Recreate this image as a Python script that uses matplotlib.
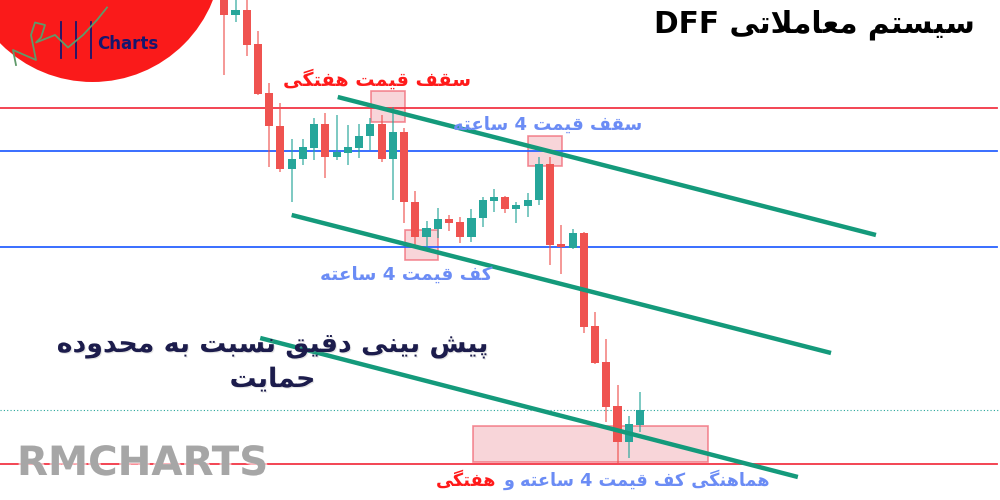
""" Candlestick chart with support / resistance notes (DFF system). """

import re

import matplotlib
matplotlib.use("Agg")
import matplotlib.pyplot as plt
import matplotlib.patheffects as pe
from matplotlib.patches import Ellipse, Rectangle

plt.rcParams['font.family'] = ['DejaVu Sans']

# ---- data -------------------------------------------------------------
# candles (index 0 is the first visible bar)
opens = [508, 485, 490, 456, 407, 374, 331, 341, 352, 376, 343, 347, 352, 364, 376,
         341, 368, 298, 263, 271, 281, 278, 263, 282, 299, 303, 291, 294, 300, 336,
         256, 252, 267, 174, 138, 94, 58, 75]
closes = [485, 490, 455, 406, 374, 331, 341, 353, 376, 343, 348, 353, 364, 376, 341,
          368, 298, 263, 272, 281, 277, 263, 282, 300, 303, 291, 295, 300, 336, 255,
          253, 267, 173, 137, 93, 58, 76, 90]
highs = [512, 505, 505, 469, 417, 397, 361, 361, 382, 387, 385, 375, 376, 382, 385,
         393, 372, 309, 279, 292, 285, 283, 291, 303, 311, 304, 298, 307, 343, 343,
         275, 271, 268, 188, 161, 115, 84, 108]
lows = [425, 478, 444, 405, 333, 328, 298, 335, 340, 322, 340, 335, 342, 350, 338,
        300, 277, 253, 252, 262, 269, 257, 258, 273, 288, 287, 277, 283, 295, 235,
        226, 251, 167, 136, 78, 37, 42, 68]

# price levels
weekly_levels = [392, 36]
h4_levels = [349, 253]
dotted_level = 90

# channel lines: (x0, y0, x1, y1)
channel_top = (10.1, 403, 58.0, 265)
channel_mid = (6.0, 285, 54.0, 147)
channel_low = (3.2, 162, 51.05, 23)

# zones: (x0, x1, y0, y1)
zones = [(13.06, 16.08, 378, 409),
         (27.06, 30.08, 334, 364),
         (16.08, 19.05, 240, 270),
         (22.11, 43.08, 38, 74)]

title = "سیستم معاملاتی DFF"
weekly_top = "سقف قیمت هفتگی"
h4_top = "سقف قیمت 4 ساعته"
h4_bottom = "کف قیمت 4 ساعته"
headline = ["پیش بینی دقیق نسبت به محدوده", "حمایت"]
footer_blue = "هماهنگی کف قیمت 4 ساعته و"
footer_red = "هفتگی"
watermark = "RMCHARTS"

GREEN = '#26a69a'
RED = '#ef5350'
CHANNEL = '#149a7b'
LABEL_BLUE = '#6b8cf5'
LABEL_RED = '#ff1a1a'

# ---- minimal persian shaping (matplotlib has no bidi / joining) -------
FORMS = {
    'ا': ('\ufe8d', '\ufe8e', None, None),
    'ب': ('\ufe8f', '\ufe90', '\ufe91', '\ufe92'),
    'پ': ('\ufb56', '\ufb57', '\ufb58', '\ufb59'),
    'ت': ('\ufe95', '\ufe96', '\ufe97', '\ufe98'),
    'ح': ('\ufea1', '\ufea2', '\ufea3', '\ufea4'),
    'د': ('\ufea9', '\ufeaa', None, None),
    'س': ('\ufeb1', '\ufeb2', '\ufeb3', '\ufeb4'),
    'ش': ('\ufeb5', '\ufeb6', '\ufeb7', '\ufeb8'),
    'ع': ('\ufec9', '\ufeca', '\ufecb', '\ufecc'),
    'ف': ('\ufed1', '\ufed2', '\ufed3', '\ufed4'),
    'ق': ('\ufed5', '\ufed6', '\ufed7', '\ufed8'),
    'ک': ('\ufb8e', '\ufb8f', '\ufb90', '\ufb91'),
    'گ': ('\ufb92', '\ufb93', '\ufb94', '\ufb95'),
    'ل': ('\ufedd', '\ufede', '\ufedf', '\ufee0'),
    'م': ('\ufee1', '\ufee2', '\ufee3', '\ufee4'),
    'ن': ('\ufee5', '\ufee6', '\ufee7', '\ufee8'),
    'ه': ('\ufee9', '\ufeea', '\ufeeb', '\ufeec'),
    'و': ('\ufeed', '\ufeee', None, None),
    'ی': ('\ufbfc', '\ufbfd', '\ufbfe', '\ufbff'),
}


def joins_next(c):
    return c in FORMS and FORMS[c][2] is not None


def fa(text):
    text = text.replace('\u064a', 'ی').replace('\u0643', 'ک')
    out = []
    i = 0
    while i < len(text):
        c = text[i]
        if c not in FORMS:
            out.append(c)
            i += 1
            continue
        link_prev = i > 0 and joins_next(text[i - 1])
        if c == 'ل' and i + 1 < len(text) and text[i + 1] == 'ا':
            out.append('\ufefc' if link_prev else '\ufefb')
            i += 2
            continue
        link_next = joins_next(c) and i + 1 < len(text) and text[i + 1] in FORMS
        iso, fin, ini, med = FORMS[c]
        if link_prev and link_next:
            out.append(med)
        elif link_prev:
            out.append(fin)
        elif link_next:
            out.append(ini)
        else:
            out.append(iso)
        i += 1
    s = ''.join(out)[::-1]
    return re.sub(r'[A-Za-z0-9]+', lambda m: m.group(0)[::-1], s)


def main():
    fig = plt.figure(figsize=(10, 5), dpi=100)
    ax = fig.add_axes([0, 0, 1, 1])
    ax.set_xlim(-19.96, 69.04)
    ax.set_ylim(0, 500)
    ax.axis('off')

    # levels
    for y in weekly_levels:
        ax.axhline(y, xmax=0.997, color='#f23645', lw=1.3, zorder=1.5)
    for y in h4_levels:
        ax.axhline(y, xmax=0.997, color='#2962ff', lw=1.3, zorder=1.5)
    ax.axhline(dotted_level, color=GREEN, lw=0.8, ls=(0, (1, 2)), zorder=1.5)

    # zones
    for x0, x1, y0, y1 in zones:
        ax.add_patch(Rectangle((x0, y0), x1 - x0, y1 - y0, facecolor='#f6c4c9',
                               edgecolor='#f0606e', lw=1.2, alpha=0.7, zorder=1))

    # candles
    xs = list(range(len(opens)))
    colors = [GREEN if c >= o else RED for o, c in zip(opens, closes)]
    ax.vlines(xs, lows, highs, colors=colors, lw=1.2, alpha=0.7, zorder=2)
    ax.bar(xs, [c - o for o, c in zip(opens, closes)], bottom=opens, width=0.72,
           color=colors, lw=0, zorder=2.1)

    # channel
    for x0, y0, x1, y1 in (channel_top, channel_mid, channel_low):
        ax.plot([x0, x1], [y0, y1], color=CHANNEL, lw=3.2, solid_capstyle='butt', zorder=3)

    # labels
    ax.text(13.6, 421, fa(weekly_top), color=LABEL_RED, fontsize=13.8, fontweight='bold',
            ha='center', va='center', zorder=4)
    ax.text(28.8, 375, fa(h4_top), color=LABEL_BLUE, fontsize=13, fontweight='bold',
            ha='center', va='center', zorder=4)
    ax.text(16.17, 225, fa(h4_bottom), color=LABEL_BLUE, fontsize=13.2, fontweight='bold',
            ha='center', va='center', zorder=4)
    ax.text(4.3, 137, '\n'.join(fa(t) for t in headline), color='#1c1c4c', fontsize=19.3,
            fontweight='bold', ha='center', va='center', multialignment='center',
            linespacing=1.4, zorder=4,
            path_effects=[pe.withSimplePatchShadow(offset=(0.8, -0.8), shadow_rgbFace='#999999',
                                                   alpha=0.25)])
    blue = ax.text(48.56, 20, fa(footer_blue), color=LABEL_BLUE, fontsize=12.7,
                   fontweight='bold', ha='right', va='center', zorder=4)
    ax.annotate(fa(footer_red), xy=(0, 0.5), xycoords=blue, xytext=(-5, 0),
                textcoords='offset points', color=LABEL_RED, fontsize=12.7,
                fontweight='bold', ha='right', va='center', zorder=4)

    ax.text(0.975, 0.95, fa(title), transform=ax.transAxes, color='black', fontsize=21.3,
            fontweight='bold', ha='right', va='center', zorder=4)
    ax.text(0.017, 0.072, watermark, transform=ax.transAxes, color='#a6a6a6', fontsize=29,
            fontweight='bold', ha='left', va='center', zorder=4,
            path_effects=[pe.withStroke(linewidth=3, foreground='white', alpha=0.6)])

    # logo
    ax.add_patch(Ellipse((0.0925, 1.095), 0.259, 0.518, transform=ax.transAxes,
                         facecolor='#fa1a1a', edgecolor='none', zorder=5))
    for lx in (0.061, 0.076, 0.091):
        ax.plot([lx, lx], [0.956, 0.884], transform=ax.transAxes, color='#16166e',
                lw=1.3, zorder=6)
    ax.plot([0.016, 0.013, 0.036, 0.031, 0.035, 0.045, 0.041, 0.036, 0.055, 0.068,
             0.083, 0.097, 0.107],
            [0.87, 0.90, 0.88, 0.93, 0.955, 0.95, 0.925, 0.915, 0.93, 0.905, 0.93, 0.96, 0.985],
            transform=ax.transAxes, color='#5f9a6a', lw=1.3, zorder=6)
    ax.text(0.097, 0.912, 'Charts', transform=ax.transAxes, color='#16166e', fontsize=12,
            fontweight='bold', ha='left', va='center', zorder=6)

    fig.savefig('out.png', dpi=100)


if __name__ == "__main__":
    main()
